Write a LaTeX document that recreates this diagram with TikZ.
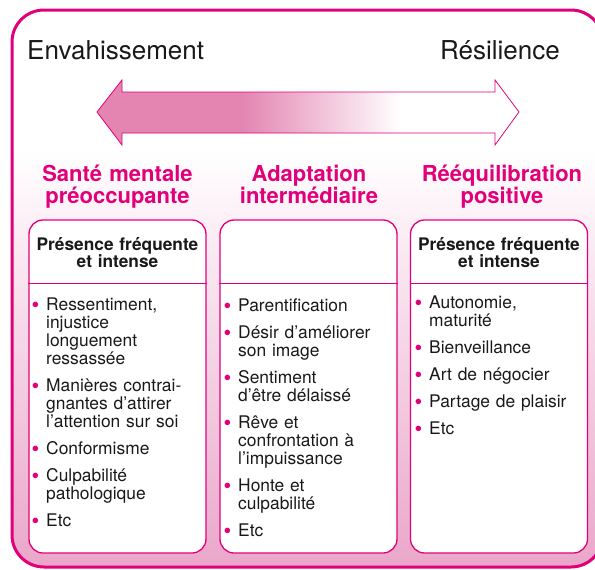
\documentclass[tikz,border=0pt]{standalone}
\usepackage{fontspec}
\setmainfont{TeX Gyre Heros}

\definecolor{rose}{RGB}{226,0,122}
\definecolor{arrowpink}{RGB}{227,132,177}
\definecolor{bgpink}{RGB}{234,166,202}

\pgfdeclarehorizontalshading{arrowfade}{100bp}{color(0bp)=(arrowpink); color(42bp)=(arrowpink); color(61bp)=(white); color(100bp)=(white)}

\newcommand{\pinkdot}{\textcolor{rose}{\raisebox{-1.8pt}{\fontsize{22}{22}\selectfont\textbullet}}}
\newcommand{\itm}[1]{\par\lineskiplimit=-20pt\relax\hangindent=14.5pt\relax\hangafter=1\relax\noindent\rule{0pt}{14pt}\makebox[14.5pt][l]{\pinkdot}#1\par\vspace{9pt}}

\begin{document}
\begin{tikzpicture}[x=1pt, y=-1pt,
    bigword/.style={inner sep=0pt, text=black!90, font=\fontsize{26}{26}\selectfont},
    coltitle/.style={anchor=north, inner sep=0pt, text width=190pt, align=center, text=rose, font=\bfseries\fontsize{22}{22.5}\selectfont},
    colbox/.style={draw=rose, line width=1.3pt, fill=white, rounded corners=14pt, minimum width=177pt, minimum height=333pt, inner sep=0pt},
    boxhead/.style={anchor=north, inner sep=0pt, text width=175pt, align=center, text=black!90, font=\bfseries\fontsize{17.3}{17.7}\selectfont},
    itemlist/.style={anchor=north west, inner sep=0pt, text width=174pt, text=black!90, font=\fontsize{17.4}{18}\selectfont}]
    \useasboundingbox (0,0) rectangle (595,570);
    \clip (0,0) rectangle (595,570);
    \fill[white] (0,0) rectangle (595,570);
    % frame with pink fading background
    \begin{scope}
        \clip[rounded corners=32pt] (12,10) rectangle (603,567);
        \fill[white] (0,0) rectangle (610,570);
        \shade[top color=white, bottom color=bgpink] (0,150) rectangle (610,567);
    \end{scope}
    \draw[rose, line width=3pt, rounded corners=32pt] (12,10) rectangle (603,567);
    % double arrow
    \shade[shading=arrowfade, draw=rose, line width=0.8pt] (97,112) -- (122,80) -- (122,92) -- (495,92) -- (495,80) -- (519,112) -- (495,145) -- (495,133) -- (122,133) -- (122,145) -- cycle;
    \node[bigword, anchor=base west] (envah) at (27,59.3) {Envahissement};
    \node[bigword, anchor=base east] (resil) at (560,59.3) {Résilience};
    % column titles
    \node[coltitle] (title1) at (117.5,164) {\rule{0pt}{17pt}Santé mentale\\préoccupante};
    \node[coltitle] (title2) at (309,164) {\rule{0pt}{17pt}Adaptation\\intermédiaire};
    \node[coltitle] (title3) at (502,164) {\rule{0pt}{17pt}Rééquilibration\\positive};
    % boxes
    \node[colbox] (box1) at (117.5,386.5) {};
    \node[colbox] (box2) at (308.5,386.5) {};
    \node[colbox] (box3) at (499,386.5) {};
    \draw[rose, line width=1.3pt] ([yshift=-64pt]box1.north west) -- ([yshift=-64pt]box1.north east);
    \draw[rose, line width=1.3pt] ([yshift=-64pt]box2.north west) -- ([yshift=-64pt]box2.north east);
    \draw[rose, line width=1.3pt] ([yshift=-64pt]box3.north west) -- ([yshift=-64pt]box3.north east);
    \node[boxhead] (head1) at (117.5,236) {\rule{0pt}{14pt}Présence fréquente\\et intense};
    \node[boxhead] (head3) at (499,236) {\rule{0pt}{14pt}Présence fréquente\\et intense};
    % lists
    \node[itemlist] (list1) at (31.5,292) {%
        \itm{Ressentiment,\newline injustice\newline longuement\newline ressassée}
        \itm{Manières contrai-\newline gnantes d’attirer\newline l’attention sur soi}
        \itm{Conformisme}
        \itm{Culpabilité\newline pathologique}
        \itm{Etc}};
    \node[itemlist] (list2) at (223.5,293) {%
        \itm{Parentification}
        \itm{Désir d’améliorer\newline son image}
        \itm{Sentiment\newline d’être délaissé}
        \itm{Rêve et\newline confrontation à\newline l’impuissance}
        \itm{Honte et\newline culpabilité}
        \itm{Etc}};
    \node[itemlist] (list3) at (414.5,290.5) {%
        \itm{Autonomie,\newline maturité}
        \itm{Bienveillance}
        \itm{Art de négocier}
        \itm{Partage de plaisir}
        \itm{Etc}};
\end{tikzpicture}
\end{document}
